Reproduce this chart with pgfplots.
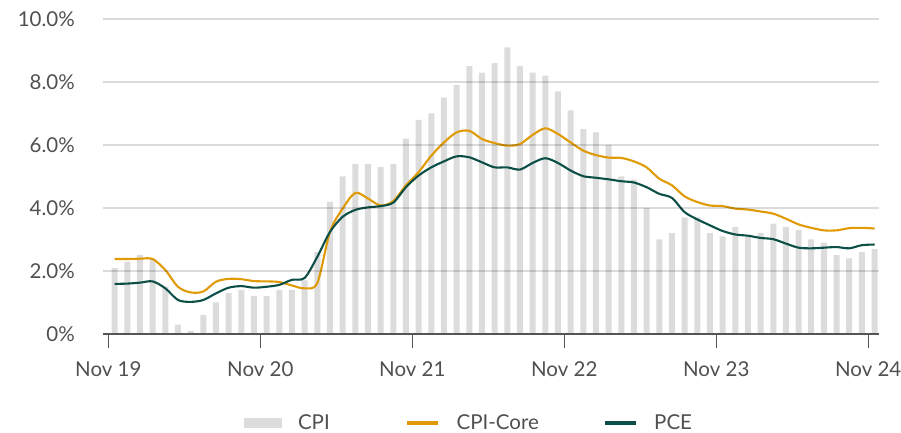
\documentclass[border=0pt]{standalone}
\usepackage{pgfplots}
\pgfplotsset{compat=1.18}
\usepackage{pgfplotstable}
\usepackage{fontspec}
\setmainfont{Lato}
\definecolor{cpigray}{RGB}{220,220,220}
\definecolor{coreorange}{HTML}{E09A05}
\definecolor{pcegreen}{HTML}{0B4F47}
\definecolor{txtgray}{HTML}{505050}
\definecolor{axgray}{HTML}{555555}

\pgfplotstableread{
x    cpi  core  pce
0.5  2.1  2.38  1.59
1.5  2.3  2.38  1.60
2.5  2.5  2.39  1.63
3.5  2.4  2.38  1.67
4.5  1.5  2.03  1.45
5.5  0.3  1.50  1.08
6.5  0.1  1.32  1.02
7.5  0.6  1.35  1.08
8.5  1.0  1.66  1.29
9.5  1.3  1.75  1.47
10.5 1.4  1.74  1.52
11.5 1.2  1.68  1.47
12.5 1.2  1.67  1.50
13.5 1.4  1.65  1.56
14.5 1.4  1.54  1.72
15.5 1.7  1.45  1.78
16.5 2.6  1.62  2.45
17.5 4.2  3.24  3.24
18.5 5.0  3.98  3.72
19.5 5.4  4.48  3.94
20.5 5.4  4.30  4.02
21.5 5.3  4.08  4.06
22.5 5.4  4.22  4.17
23.5 6.2  4.72  4.66
24.5 6.8  5.14  5.03
25.5 7.0  5.66  5.29
26.5 7.5  6.08  5.48
27.5 7.9  6.40  5.64
28.5 8.5  6.45  5.61
29.5 8.3  6.19  5.45
30.5 8.6  6.06  5.29
31.5 9.1  5.98  5.29
32.5 8.5  6.03  5.22
33.5 8.3  6.32  5.43
34.5 8.2  6.53  5.58
35.5 7.7  6.35  5.43
36.5 7.1  6.08  5.19
37.5 6.5  5.82  5.01
38.5 6.4  5.68  4.96
39.5 6.0  5.60  4.91
40.5 5.0  5.59  4.85
41.5 4.9  5.48  4.81
42.5 4.0  5.29  4.66
43.5 3.0  4.93  4.45
44.5 3.2  4.72  4.32
45.5 3.7  4.37  3.87
46.5 3.7  4.19  3.64
47.5 3.2  4.08  3.45
48.5 3.1  4.06  3.27
49.5 3.4  3.98  3.16
50.5 3.1  3.95  3.12
51.5 3.2  3.89  3.05
52.5 3.5  3.82  3.01
53.5 3.4  3.66  2.87
54.5 3.3  3.48  2.74
55.5 3.0  3.37  2.72
56.5 2.9  3.29  2.74
57.5 2.5  3.29  2.76
58.5 2.4  3.36  2.72
59.5 2.6  3.37  2.82
60.5 2.7  3.35  2.84
}\datatable

\begin{document}
\begin{tikzpicture}
\path[use as bounding box] (0,0) rectangle (901bp,433bp);
\begin{axis}[
  at={(103bp,99bp)}, anchor=south west,
  scale only axis, width=776bp, height=315bp,
  xmin=-0.42, xmax=60.85, ymin=0, ymax=10,
  axis lines*=left,
  y axis line style={draw=none},
  x axis line style={draw=axgray, line width=1.3bp},
  ytick={0,2,4,6,8,10},
  yticklabels={0\%,2.0\%,4.0\%,6.0\%,8.0\%,10.0\%},
  xtick={0,12,24,36,48,60},
  xticklabels={Nov 19,Nov 20,Nov 21,Nov 22,Nov 23,Nov 24},
  tick align=outside,
  major tick length=14bp,
  ytick style={draw=none},
  xtick style={draw=axgray, line width=1.2bp},
  ymajorgrids,
  grid style={draw=black, opacity=0.14, line width=1.3bp},
  axis on top,
  tick label style={font=\fontsize{20.5bp}{24bp}\selectfont, text=txtgray},
  yticklabel style={anchor=east, inner sep=0pt, xshift=-14bp},
  xticklabel style={anchor=north, inner sep=0pt, yshift=-13bp},
  legend columns=3,
  legend style={draw=none, fill=none, inner sep=0pt, outer sep=0pt,
    at={(0.1817,-0.2825)}, anchor=west,
    font=\fontsize{20.5bp}{24bp}\selectfont, text=txtgray,
    nodes={inner sep=0pt},
    /tikz/every odd column/.append style={column sep=16bp},
    /tikz/every even column/.append style={column sep=0pt}},
  legend cell align=left,
]
\addplot[ybar, bar width=6bp, bar shift=0pt, fill=cpigray, draw=none,
  legend image code/.code={\fill[cpigray] (0bp,-5bp) rectangle (38bp,5bp);}]
  table[x=x, y=cpi] {\datatable};
\addlegendentry{\makebox[107bp][l]{CPI}}
\addplot[coreorange, line width=2.1bp, smooth, no marks,
  legend image code/.code={\draw[line width=4.6bp] (0bp,0bp) -- (31bp,0bp);}]
  table[x=x, y=core] {\datatable};
\addlegendentry{\makebox[146bp][l]{CPI-Core}}
\addplot[pcegreen, line width=2.1bp, smooth, no marks,
  legend image code/.code={\draw[line width=4.6bp] (0bp,0bp) -- (31bp,0bp);}]
  table[x=x, y=pce] {\datatable};
\addlegendentry{PCE}
\end{axis}
\end{tikzpicture}
\end{document}
